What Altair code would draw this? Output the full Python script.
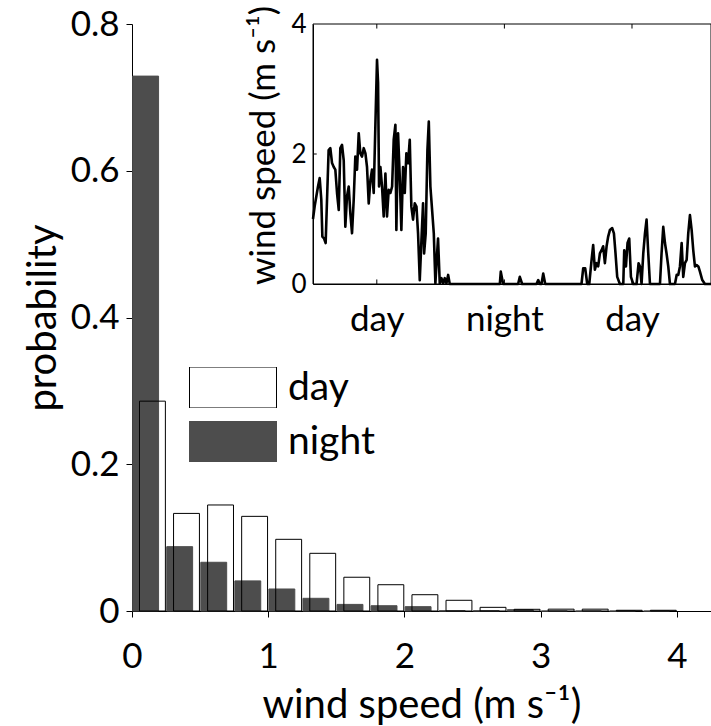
import altair as alt
import pandas as pd

# ---- histogram data (bin starts in m/s, probabilities) ----
bin_start = [0.0, 0.25, 0.5, 0.75, 1.0, 1.25, 1.5, 1.75, 2.0, 2.25, 2.5, 2.75, 3.0, 3.25, 3.5, 3.75]
day_prob = [0.286, 0.133, 0.1445, 0.129, 0.0977, 0.0786, 0.046, 0.0358, 0.0222, 0.0146,
            0.005, 0.0023, 0.0025, 0.0025, 0.001, 0.001]
night_prob = [0.729, 0.0877, 0.0664, 0.041, 0.030, 0.0173, 0.009, 0.0072, 0.0059, 0.0005,
              0.0005, 0.0018, 0.0, 0.0, 0.0, 0.0]
periods = ["day", "night"]

# ---- inset time series (hours since 06:00, wind speed m/s) ----
hours = [0.0, 0.16, 0.47, 0.63, 0.78, 0.88, 1.04, 1.19, 1.32, 1.47, 1.63, 1.79, 1.95, 2.10, 2.26,
         2.42, 2.57, 2.73, 2.89, 3.04, 3.20, 3.36, 3.51, 3.67, 3.83, 3.98, 4.14, 4.30, 4.45, 4.61,
         4.77, 4.93, 5.08, 5.24, 5.40, 5.55, 5.71, 5.87, 6.02, 6.12, 6.21, 6.34, 6.49, 6.65, 6.81,
         6.96, 7.12, 7.28, 7.44, 7.59, 7.75, 7.84, 8.00, 8.16, 8.31, 8.47, 8.63, 8.78, 8.94, 9.10,
         9.25, 9.41, 9.57, 9.73, 9.88, 10.04, 10.20, 10.35, 10.45, 10.60, 10.76, 10.89, 11.04, 11.20,
         11.36, 11.51, 11.67, 11.76, 11.92, 12.08, 12.24, 12.39, 12.55, 12.71, 12.86,
         17.41, 17.57, 17.66, 17.88, 19.29, 19.45, 19.67, 21.02, 21.18, 21.33, 21.49, 21.65, 21.84,
         25.25, 25.41, 25.60, 25.79, 25.98, 26.20, 26.35, 26.51, 26.67, 26.82, 26.98, 27.14, 27.29,
         27.45, 27.61, 27.76, 27.92, 28.14, 28.30, 28.45, 28.61, 28.86, 29.18, 29.27, 29.43, 29.58,
         29.74, 29.90, 30.12, 30.43, 30.62, 30.75, 30.90, 31.06, 31.22, 31.37, 31.53, 31.69, 32.63,
         32.78, 32.94, 33.10, 33.25, 33.41, 33.57, 34.04, 34.20, 34.35, 34.51, 34.67, 34.82, 34.98,
         35.14, 35.29, 35.45, 35.61, 35.76, 35.92, 36.08, 36.24, 36.39, 36.61, 36.86, 37.43]
speed = [1.0, 1.2, 1.5, 1.63, 1.3, 0.73, 0.7, 0.63, 1.3, 2.06, 2.09, 1.86, 1.8, 1.76, 1.4,
         1.14, 2.09, 2.14, 1.9, 0.88, 1.35, 1.5, 1.09, 0.78, 1.3, 1.96, 1.76, 2.32, 2.01, 1.96,
         2.09, 2.01, 1.8, 1.24, 1.6, 1.76, 1.4, 2.47, 3.45, 3.09, 1.5, 1.8, 1.5, 1.04, 1.7,
         1.04, 1.45, 1.4, 1.5, 2.22, 2.45, 0.83, 2.32, 1.65, 0.83, 1.8, 1.4, 2.01, 1.86, 2.22,
         1.19, 0.99, 1.24, 1.19, 0.78, 0.06, 0.68, 1.24, 0.47, 0.78, 2.06, 2.5, 1.5, 1.14,
         0.78, 0.01, 0.47, 0.7, 0.01, 0.09, 0.01, 0.09, 0.01, 0.14, 0.0,
         0.0, 0.0, 0.19, 0.0, 0.0, 0.11, 0.0, 0.0, 0.06, 0.0, 0.0, 0.16, 0.0,
         0.0, 0.24, 0.24, 0.0, 0.0, 0.37, 0.6, 0.22, 0.32, 0.27, 0.47, 0.52, 0.58,
         0.32, 0.58, 0.73, 0.83, 0.86, 0.78, 0.47, 0.11, 0.0, 0.0, 0.52, 0.27, 0.63,
         0.7, 0.11, 0.0, 0.0, 0.32, 0.27, 0.0, 0.47, 0.78, 0.99, 0.47, 0.0, 0.0,
         0.47, 0.88, 0.63, 0.47, 0.27, 0.0, 0.0, 0.14, 0.14, 0.27, 0.63, 0.11, 0.32,
         0.37, 0.78, 1.06, 0.83, 0.52, 0.27, 0.29, 0.27, 0.19, 0.06, 0.0, 0.0]
inset_ticks = [6, 18, 30]
inset_tick_labels = ["day", "night", "day"]

FONT = "Lato"
NIGHT_GREY = "#4d4d4d"

# ---- build table: night first so day outlines are drawn on top ----
rows = []
for p, probs in (("night", night_prob), ("day", day_prob)):
    for s, v in zip(bin_start, probs):
        rows.append({"period": p, "start": s, "prob": v})
hist = pd.DataFrame(rows)

W, H = 579, 587
IX0, IX1 = 181, 579      # inset horizontal pixel range inside plot
IY0, IY1 = 260, 0        # inset vertical pixel range inside plot
T_MAX = 37.43

label_expr = "datum.value == 18 ? '%s' : '%s'" % (inset_tick_labels[1], inset_tick_labels[0])

bars = alt.Chart(hist).transform_calculate(
    off="datum.period == 'day' ? 0.025 : -0.025",
    x0="datum.start + 0.125 + datum.off - 0.095",
    x1="datum.start + 0.125 + datum.off + 0.095",
).mark_bar(strokeWidth=1).encode(
    x=alt.X("x0:Q", scale=alt.Scale(domain=[0, 4.25], nice=False, zero=False),
            axis=alt.Axis(values=[0, 1, 2, 3, 4], title="wind speed (m s⁻¹)",
                          tickSize=6, labelPadding=22, titlePadding=11, format="d")),
    x2="x1:Q",
    y=alt.Y("prob:Q", stack=None, scale=alt.Scale(domain=[0, 0.8], nice=False),
            axis=alt.Axis(values=[0, 0.2, 0.4, 0.6, 0.8], title="probability",
                          tickSize=6, labelPadding=7, titlePadding=7, format=".1~f")),
    y2=alt.Y2(datum=0),
    fill=alt.Fill("period:N", scale=alt.Scale(domain=periods, range=["transparent", NIGHT_GREY]),
                  legend=alt.Legend(title=None)),
    stroke=alt.Stroke("period:N", scale=alt.Scale(domain=periods, range=["black", NIGHT_GREY]),
                      legend=alt.Legend(title=None)),
)


def xs():
    return alt.Scale(domain=[0, T_MAX], range=[IX0, IX1], nice=False, zero=False)


def ys():
    return alt.Scale(domain=[0, 4], range=[IY0, IY1], nice=False, zero=False)


ts = pd.DataFrame({"hour": hours, "speed": speed})
line = alt.Chart(ts).mark_line(color="black", strokeWidth=2.6, strokeJoin="round").encode(
    x=alt.X("hour:Q", scale=xs(),
            axis=alt.Axis(orient="bottom", offset=-(H - IY0), values=inset_ticks,
                          labelExpr=label_expr,
                          tickSize=0, labelPadding=18, labelFontSize=35, title=None,
                          zindex=2)),
    y=alt.Y("speed:Q", scale=ys(),
            axis=alt.Axis(orient="left", offset=-IX0, values=[0, 2, 4], tickSize=0,
                          labelPadding=7, labelFontSize=26, title="wind speed (m s⁻¹)",
                          titleFontSize=35, titlePadding=9, titleY=121, zindex=2)),
)

box = alt.Chart(pd.DataFrame({"a": [0]})).mark_rect(
    fill="transparent", stroke="black", strokeWidth=1
).encode(
    x=alt.X(datum=0, scale=xs(), axis=None), x2=alt.X2(datum=T_MAX),
    y=alt.Y(datum=0, scale=ys(), axis=None), y2=alt.Y2(datum=4),
)

tick_df = pd.DataFrame({"t": inset_ticks})
top_ticks = alt.Chart(tick_df).mark_rule(color="black", strokeWidth=1).encode(
    x=alt.X("t:Q", scale=xs(), axis=None), y=alt.Y(datum=4, scale=ys(), axis=None),
    y2=alt.Y2(datum=3.93))
bot_ticks = alt.Chart(tick_df).mark_rule(color="black", strokeWidth=1).encode(
    x=alt.X("t:Q", scale=xs(), axis=None), y=alt.Y(datum=0, scale=ys(), axis=None),
    y2=alt.Y2(datum=0.07))
ytick_df = pd.DataFrame({"v": [2]})
y_ticks = alt.Chart(ytick_df).mark_rule(color="black", strokeWidth=1).encode(
    y=alt.Y("v:Q", scale=ys(), axis=None), x=alt.X(datum=0, scale=xs(), axis=None),
    x2=alt.X2(datum=0.35))

chart = alt.layer(bars, line, box, top_ticks, bot_ticks, y_ticks).resolve_scale(
    x="independent", y="independent", fill="shared", stroke="shared"
).properties(
    width=W, height=H,
    autosize=alt.AutoSizeParams(type="none"),
    padding={"left": 132, "top": 24, "right": 0, "bottom": 115},
).configure_view(stroke=None).configure_axis(
    grid=False, domainColor="black", tickColor="black", labelColor="black",
    titleColor="black", labelFont=FONT, titleFont=FONT, labelFontSize=35,
    titleFontSize=40, titleFontWeight="normal", domainWidth=1, tickWidth=1,
    labelFlush=False,
).configure_legend(
    orient="none", legendX=57, legendY=343,
    symbolType="M-1,-0.471H1V0.471H-1Z", symbolSize=7569, clipHeight=41,
    rowPadding=13, labelOffset=11, labelFont=FONT, labelFontSize=39,
    labelColor="black", symbolStrokeWidth=1, symbolOpacity=1, padding=0,
)

chart.save("out.html", embed_options={"renderer": "svg", "actions": False})
